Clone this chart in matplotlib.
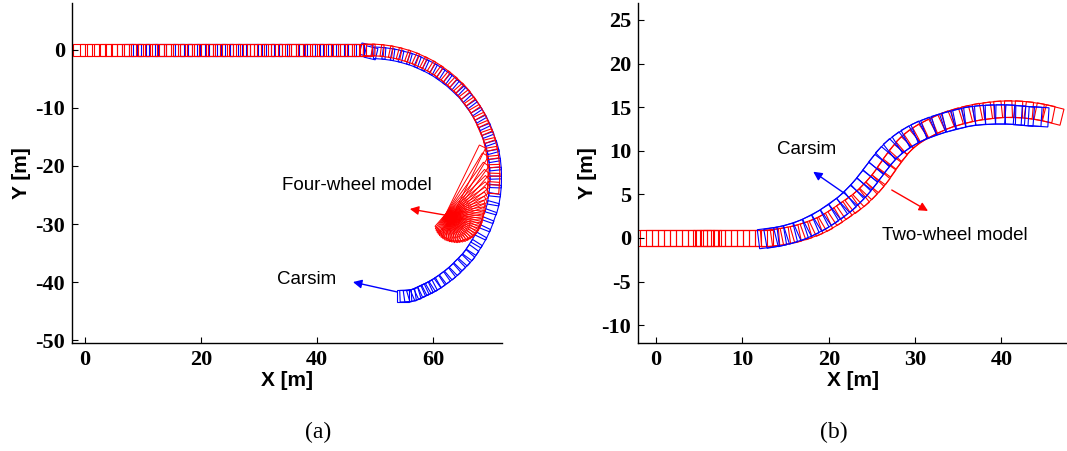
"""Vehicle trajectory comparison: (a) four-wheel model vs Carsim, (b) two-wheel model vs Carsim."""
import numpy as np
import matplotlib
matplotlib.use("Agg")
import matplotlib.pyplot as plt
from matplotlib.patches import Rectangle

# ---- panel (a): U-turn, four-wheel model (red) vs Carsim (blue) ----
red_a_straight_x = [-1.0, 0.2, 1.4, 2.6, 3.6, 4.5, 5.4, 6.6, 7.8, 9.0, 10.2, 11.4, 12.6, 13.8,
                    15.0, 16.2, 17.4, 18.6, 19.8, 21.0, 22.2, 23.4, 24.6, 25.8, 27.0, 28.2, 29.4,
                    30.6, 31.8, 33.0, 34.2, 35.4, 36.6, 37.8, 39.0, 40.2, 41.4, 42.6, 43.8, 45.0,
                    46.2, 47.4, 48.4]
red_a_curve_x = [49.0, 50.5, 52.0, 53.5, 54.9, 56.4, 57.7, 59.1, 60.4, 61.6, 62.8, 63.9, 65.0,
                 65.9, 66.8, 67.6, 68.3, 68.9, 69.5, 69.9, 70.2, 70.4, 70.5, 70.5, 70.4]
red_a_curve_y = [0.0, -0.05, -0.21, -0.47, -0.83, -1.30, -1.86, -2.52, -3.27, -4.11, -5.03,
                 -6.03, -7.11, -8.26, -9.48, -10.75, -12.07, -13.45, -14.86, -16.30, -17.77,
                 -19.25, -20.75, -22.25, -23.75]
# spin-out fan of the four-wheel model: body directions (deg) and reach (m) from the pivot
red_a_fan_pivot = (62.7, -28.6)
red_a_fan_angle = [64, 59, 54, 49, 44, 39, 34, 29, 24, 19, 14, 9, 4, -1, -6, -11, -16, -21, -26,
                   -31, -36, -41, -46, -51, -56, -61, -66, -71, -76, -81, -86, -91, -96, -101,
                   -106, -111, -116, -121, -126, -131]
red_a_fan_len = [13.3, 12.3, 11.0, 10.1, 9.4, 8.6, 8.0, 7.4, 7.0, 6.6, 6.4, 6.2, 6.0, 5.9, 5.85,
                 5.8, 5.75, 5.7, 5.6, 5.55, 5.5, 5.4, 5.3, 5.2, 5.05, 4.9, 4.8, 4.65, 4.5, 4.4,
                 4.25, 4.15, 4.0, 3.85, 3.7, 3.55, 3.4, 3.25, 3.1, 2.9]

blue_a_straight_x = [7.3, 8.6, 10.0, 11.5, 13.0, 14.6, 16.1, 17.4, 18.8, 20.3, 21.7, 23.1, 24.5,
                     26.0, 27.4, 28.8, 30.2, 31.6, 33.0, 34.5, 35.9, 37.3, 38.7, 40.1, 41.5,
                     42.9, 44.3, 45.7, 47.1, 48.5]
blue_a_curve_x = [49.3, 50.8, 52.3, 53.8, 55.2, 56.7, 58.0, 59.4, 60.7, 61.9, 63.1, 64.2, 65.3,
                  66.2, 67.1, 67.9, 68.6, 69.2, 69.7, 70.2, 70.5, 70.7, 70.8, 70.8, 70.7, 70.5,
                  70.2, 69.7, 69.2, 68.6, 67.9, 67.1, 66.5, 65.8, 65.0, 64.2, 63.4, 62.5, 61.6,
                  60.7, 60.05, 59.4, 58.7, 58.0, 57.4, 56.7, 56.0, 55.3, 54.8]
blue_a_curve_y = [-0.5, -0.55, -0.71, -0.97, -1.33, -1.80, -2.36, -3.02, -3.77, -4.61, -5.53,
                  -6.53, -7.61, -8.76, -9.98, -11.25, -12.57, -13.95, -15.36, -16.80, -18.27,
                  -19.75, -21.25, -22.75, -24.25, -25.73, -27.20, -28.64, -30.05, -31.43,
                  -32.75, -34.02, -34.94, -35.82, -36.66, -37.46, -38.23, -38.94, -39.61,
                  -40.23, -40.62, -40.98, -41.32, -41.64, -41.93, -42.20, -42.35, -42.4, -42.4]

# ---- panel (b): lane change, two-wheel model (red) vs Carsim (blue) ----
red_b_straight_x = [-1.5, -0.8, -0.1, 0.6, 1.3, 2.0, 2.7, 3.4, 4.1, 4.8, 5.3, 5.7, 6.1, 6.5,
                    6.9, 7.6, 8.3, 9.0, 9.7, 10.4, 11.1, 11.8, 12.5]
red_b_curve_x = [13.2, 14.4, 15.6, 16.8, 18.0, 19.1, 20.2, 21.3, 22.3, 23.3, 24.2, 25.0, 25.7,
                 26.4, 27.0, 27.7, 28.4, 29.2, 30.1, 31.1, 32.1, 33.2, 34.3, 35.4, 36.6, 37.8,
                 39.0, 40.2, 41.4, 42.6, 43.8, 45.0, 46.0]
red_b_curve_y = [0.0, 0.15, 0.35, 0.65, 1.05, 1.5, 2.1, 2.8, 3.5, 4.2, 5.0, 5.8, 6.6, 7.5, 8.4,
                 9.3, 10.2, 11.0, 11.7, 12.3, 12.8, 13.3, 13.7, 14.0, 14.3, 14.5, 14.65, 14.75,
                 14.75, 14.7, 14.55, 14.35, 14.1]
blue_b_straight_x = [13.0]
blue_b_curve_x = [13.8, 15.0, 16.2, 17.4, 18.5, 19.6, 20.6, 21.6, 22.5, 23.3, 24.1, 24.8, 25.5,
                  26.2, 27.0, 27.9, 28.9, 29.9, 31.0, 32.1, 33.3, 34.5, 35.7, 36.9, 38.1, 39.3,
                  40.5, 41.6, 42.6, 43.5, 44.3]
blue_b_curve_y = [0.1, 0.35, 0.7, 1.15, 1.7, 2.3, 3.0, 3.7, 4.5, 5.3, 6.2, 7.1, 8.0, 8.9, 9.8,
                  10.6, 11.3, 11.9, 12.4, 12.8, 13.2, 13.5, 13.8, 14.0, 14.1, 14.15, 14.15, 14.1,
                  14.0, 13.95, 13.9]

RED = "#ff0000"
BLUE = "#0000ff"
TICK_FONT = dict(family="Liberation Serif", weight="bold", size=16)
LABEL_FONT = dict(family="Liberation Sans", weight="bold", size=15)
NOTE_FONT = dict(family="Liberation Sans", size=13.5)


def path_xy(straight_x, curve_x, curve_y):
    xs = np.concatenate([np.asarray(straight_x, float), np.asarray(curve_x, float)])
    ys = np.concatenate([np.zeros(len(straight_x)), np.asarray(curve_y, float)])
    return xs, ys


def draw_cars(ax, xs, ys, length, width, color, lw=0.8):
    heading = np.degrees(np.arctan2(np.gradient(ys), np.gradient(xs)))
    for x, y, h in zip(xs, ys, heading):
        ax.add_patch(Rectangle((x - length / 2, y - width / 2), length, width, angle=h,
                               rotation_point="center", fill=False, ec=color, lw=lw))


def draw_fan(ax, pivot, angles, lengths, width, color, lw=0.7):
    for a, r in zip(angles, lengths):
        u = np.array([np.cos(np.radians(a)), np.sin(np.radians(a))])
        cx, cy = np.array(pivot) + u * r / 2
        ax.add_patch(Rectangle((cx - r / 2, cy - width / 2), r, width, angle=a,
                               rotation_point="center", fill=False, ec=color, lw=lw))


def style_axes(ax, xticks, yticks):
    for side in ("top", "right"):
        ax.spines[side].set_visible(False)
    for side in ("left", "bottom"):
        ax.spines[side].set_linewidth(1.0)
    ax.tick_params(direction="in", length=4, width=0.8, pad=5, top=False, right=False)
    ax.set_xticks(xticks)
    ax.set_yticks(yticks)
    ax.set_xticklabels([str(t) for t in xticks], **TICK_FONT)
    ax.set_yticklabels([str(t) for t in yticks], **TICK_FONT)
    ax.set_xlabel("X [m]", labelpad=1, **LABEL_FONT)
    ax.set_ylabel("Y [m]", labelpad=3, **LABEL_FONT)


def arrow(ax, tail, head, color):
    ax.annotate("", xy=head, xytext=tail,
                arrowprops=dict(arrowstyle="-|>", color=color, lw=1.0, mutation_scale=13,
                                shrinkA=0, shrinkB=0))


fig = plt.figure(figsize=(10.67, 4.51), dpi=100)

# (a)
ax_a = fig.add_axes([0.0675, 0.2395, 0.403, 0.754])
bx, by = path_xy(blue_a_straight_x, blue_a_curve_x, blue_a_curve_y)
draw_cars(ax_a, bx, by, 2.0, 2.0, BLUE)
rx, ry = path_xy(red_a_straight_x, red_a_curve_x, red_a_curve_y)
draw_cars(ax_a, rx, ry, 2.0, 2.0, RED)
draw_fan(ax_a, red_a_fan_pivot, red_a_fan_angle, red_a_fan_len, 1.2, RED)
ax_a.set_xlim(-2.24, 71.9)
ax_a.set_ylim(-50.5, 8.1)
style_axes(ax_a, [0, 20, 40, 60], [-50, -40, -30, -20, -10, 0])
ax_a.text(34.0, -23.4, "Four-wheel model", ha="left", va="center", **NOTE_FONT)
arrow(ax_a, (62.9, -28.6), (56.0, -27.4), RED)
ax_a.text(33.1, -39.5, "Carsim", ha="left", va="center", **NOTE_FONT)
arrow(ax_a, (53.8, -41.7), (46.2, -40.0), BLUE)

# (b)
ax_b = fig.add_axes([0.598, 0.2395, 0.402, 0.754])
rx, ry = path_xy(red_b_straight_x, red_b_curve_x, red_b_curve_y)
draw_cars(ax_b, rx, ry, 2.1, 1.9, RED)
bx, by = path_xy(blue_b_straight_x, blue_b_curve_x, blue_b_curve_y)
draw_cars(ax_b, bx, by, 2.3, 2.2, BLUE)
ax_b.set_xlim(-2.09, 47.6)
ax_b.set_ylim(-12.04, 26.95)
style_axes(ax_b, [0, 10, 20, 30, 40], [-10, -5, 0, 5, 10, 15, 20, 25])
ax_b.text(14.0, 10.2, "Carsim", ha="left", va="center", **NOTE_FONT)
arrow(ax_b, (21.7, 5.2), (18.2, 7.6), BLUE)
ax_b.text(26.2, 0.34, "Two-wheel model", ha="left", va="center", **NOTE_FONT)
arrow(ax_b, (27.3, 5.5), (31.5, 3.1), RED)

fig.text(0.298, 0.042, "(a)", ha="center", va="center", family="Liberation Serif", size=17)
fig.text(0.781, 0.042, "(b)", ha="center", va="center", family="Liberation Serif", size=17)

fig.savefig("out.png", dpi=100)
